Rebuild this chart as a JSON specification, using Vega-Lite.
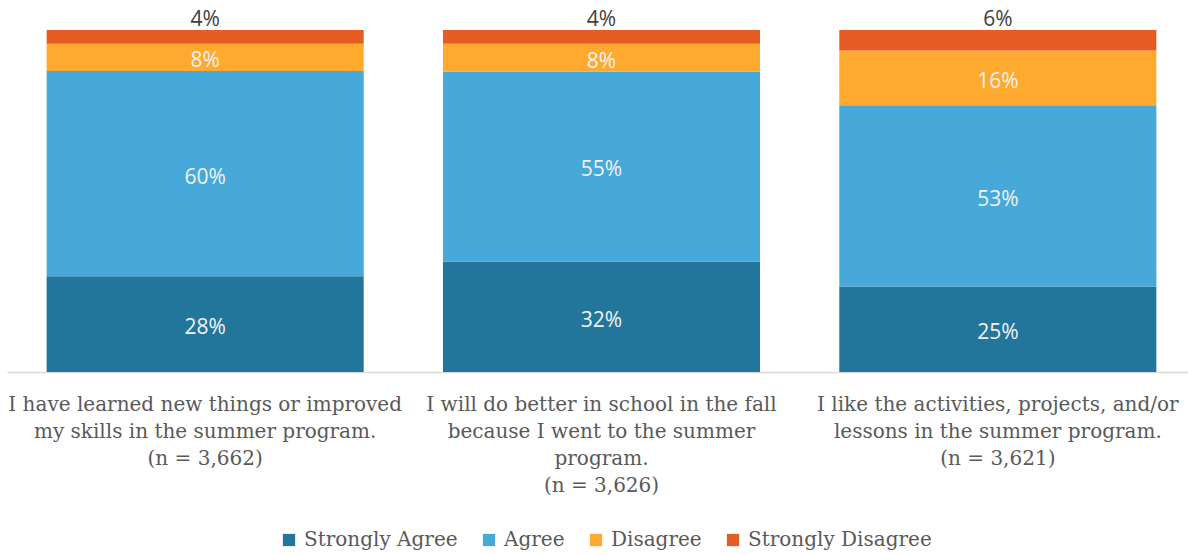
{
  "$schema": "https://vega.github.io/schema/vega-lite/v6.json",
  "width": 1189,
  "height": 342,
  "autosize": {"type": "none"},
  "padding": {"left": 7, "top": 30, "right": 0, "bottom": 183},
  "background": "white",
  "config": {"view": {"stroke": null}},
  "data": {"values": [
    {"q": "I have learned new things or improved|my skills in the summer program.|(n = 3,662)", "cat": "Strongly Agree", "value": 28},
    {"q": "I have learned new things or improved|my skills in the summer program.|(n = 3,662)", "cat": "Agree", "value": 60},
    {"q": "I have learned new things or improved|my skills in the summer program.|(n = 3,662)", "cat": "Disagree", "value": 8},
    {"q": "I have learned new things or improved|my skills in the summer program.|(n = 3,662)", "cat": "Strongly Disagree", "value": 4},
    {"q": "I will do better in school in the fall|because I went to the summer|program.|(n = 3,626)", "cat": "Strongly Agree", "value": 32},
    {"q": "I will do better in school in the fall|because I went to the summer|program.|(n = 3,626)", "cat": "Agree", "value": 55},
    {"q": "I will do better in school in the fall|because I went to the summer|program.|(n = 3,626)", "cat": "Disagree", "value": 8},
    {"q": "I will do better in school in the fall|because I went to the summer|program.|(n = 3,626)", "cat": "Strongly Disagree", "value": 4},
    {"q": "I like the activities, projects, and/or|lessons in the summer program.|(n = 3,621)", "cat": "Strongly Agree", "value": 25},
    {"q": "I like the activities, projects, and/or|lessons in the summer program.|(n = 3,621)", "cat": "Agree", "value": 53},
    {"q": "I like the activities, projects, and/or|lessons in the summer program.|(n = 3,621)", "cat": "Disagree", "value": 16},
    {"q": "I like the activities, projects, and/or|lessons in the summer program.|(n = 3,621)", "cat": "Strongly Disagree", "value": 6}
  ]},
  "transform": [
    {"calculate": "indexof(['Strongly Agree','Agree','Disagree','Strongly Disagree'], datum.cat)", "as": "ord"},
    {"stack": "value", "groupby": ["q"], "offset": "normalize", "sort": [{"field": "ord", "order": "ascending"}], "as": ["y0", "y1"]},
    {"calculate": "(datum.y0 + datum.y1) / 2", "as": "ymid"},
    {"calculate": "datum.value + '%'", "as": "lbl"}
  ],
  "encoding": {
    "x": {
      "field": "q", "type": "nominal", "sort": null, "title": null,
      "scale": {"paddingInner": 0.2, "paddingOuter": 0.1},
      "axis": {
        "labelAngle": 0, "labelExpr": "split(datum.label, '|')",
        "labelFont": "DejaVu Serif", "labelFontSize": 20, "labelColor": "#595959",
        "labelLineHeight": 27, "labelPadding": 22, "labelBaseline": "top",
        "ticks": false, "domainColor": "#d9d9d9", "domainWidth": 1.5, "labelLimit": 0
      }
    }
  },
  "layer": [
    {
      "mark": {"type": "bar"},
      "encoding": {
        "y": {"field": "y0", "type": "quantitative", "scale": {"domain": [0, 1]}, "axis": null},
        "y2": {"field": "y1"},
        "color": {
          "field": "cat", "type": "nominal", "title": null,
          "scale": {"domain": ["Strongly Agree", "Agree", "Disagree", "Strongly Disagree"], "range": ["#22769C", "#46A9D9", "#FFA92E", "#E55D25"]},
          "legend": {
            "orient": "none", "legendX": 272, "legendY": 500, "direction": "horizontal",
            "symbolType": "square", "symbolSize": 150, "symbolStrokeWidth": 0,
            "labelFont": "DejaVu Serif", "labelFontSize": 20, "labelColor": "#595959",
            "columnPadding": 21, "labelOffset": 5, "labelLimit": 0
          }
        }
      }
    },
    {
      "transform": [{"filter": "datum.cat != 'Strongly Disagree'"}],
      "mark": {"type": "text", "font": "Open Sans", "fontSize": 21, "color": "#F2F2F2", "baseline": "middle", "dy": 4},
      "encoding": {
        "y": {"field": "ymid", "type": "quantitative"},
        "text": {"field": "lbl"}
      }
    },
    {
      "transform": [{"filter": "datum.cat == 'Strongly Disagree'"}],
      "mark": {"type": "text", "font": "Open Sans", "fontSize": 21, "color": "#404040", "baseline": "middle", "dy": -10},
      "encoding": {
        "y": {"field": "y1", "type": "quantitative"},
        "text": {"field": "lbl"}
      }
    }
  ]
}
